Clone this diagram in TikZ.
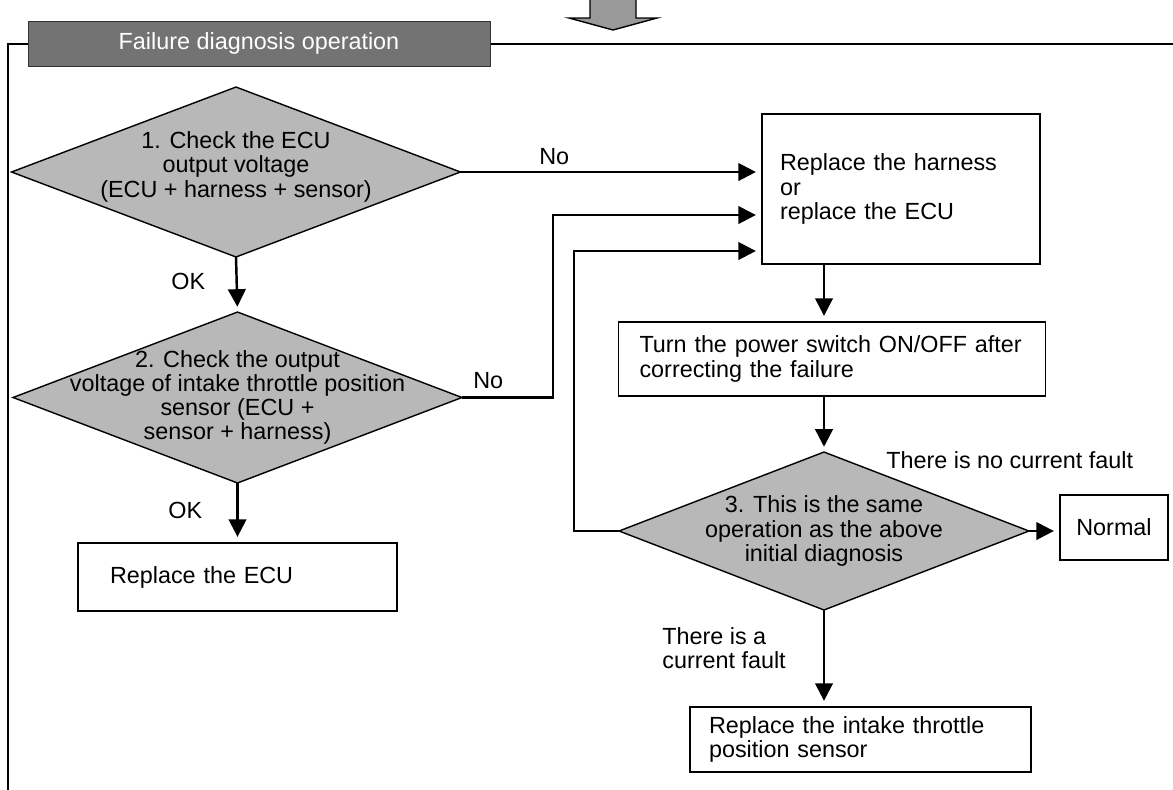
\documentclass[tikz,border=0pt]{standalone}
\usepackage{fontspec}
\setmainfont{Liberation Sans}
\usetikzlibrary{shapes.geometric, arrows.meta, positioning, calc}
\colorlet{diagray}{black!28}
\colorlet{bargray}{black!55}
\colorlet{pipegray}{black!40}

\begin{document}
\begin{tikzpicture}[x=0.02cm, y=-0.02cm, font=\fontsize{13.3}{13.8}\selectfont,
    decision/.style={draw, diamond, fill=diagray, line width=0.8pt, inner sep=0pt, outer sep=0pt},
    action/.style={draw, rectangle, line width=1pt, align=left, inner ysep=0pt},
    flow/.style={line width=1.4pt, -{Triangle[length=10pt, width=10pt]}, shorten >=3pt},
    lbl/.style={inner sep=0pt}]
    \useasboundingbox (0,0) rectangle (1173,789);

    \draw[fill=pipegray, line width=0.8pt] (590,-2) -- (590,18) -- (569,18) -- (613,30) -- (657,18) -- (636,18) -- (636,-2);
    \draw[line width=0.8pt] (8,792) -- (8,44) -- (1176,44);
    \node[draw=black!80, fill=bargray, text=white, minimum width=9.24cm, minimum height=0.9cm, inner sep=0pt] (title) at (259,43.5) {Failure diagnosis operation};

    \node[decision, minimum width=8.98cm, minimum height=3.4cm] (chk1) at (236,172) {};
    \node[align=center] (chk1txt) at ([yshift=3pt]chk1.center) {1. Check the ECU\\output voltage\\(ECU + harness + sensor)};
    \node[decision, minimum width=8.98cm, minimum height=3.42cm] (chk2) at (237.5,397.5) {};
    \node[align=center] (chk2txt) at (chk2.center) {2. Check the output\\voltage of intake throttle position\\sensor (ECU +\\sensor + harness)};
    \node[decision, minimum width=8.2cm, minimum height=3.16cm] (chk3) at (824,531) {};
    \node[align=center] (chk3txt) at (chk3.center) {3. This is the same\\operation as the above\\initial diagnosis};

    \node[action, text width=5.1cm, inner xsep=0.64cm, minimum height=1.36cm] (ecu) at (237.5,577) {Replace the ECU};
    \node[action, text width=4.84cm, inner xsep=0.36cm, minimum height=3cm] (harness) at (901,189) {Replace the harness\\or\\replace the ECU};
    \node[action, text width=7.7cm, inner xsep=0.42cm, minimum height=1.48cm] (power) at (832,359) {Turn the power switch ON/OFF after\\correcting the failure};
    \node[action, align=center, minimum width=2.16cm, minimum height=1.3cm] (normal) at (1114,527.5) {Normal};
    \node[action, text width=6.06cm, inner xsep=0.38cm, minimum height=1.3cm] (sensor) at (860.5,739.5) {Replace the intake throttle\\position sensor};

    \node[lbl, anchor=base west] (no1) at (539,164) {No};
    \node[lbl, anchor=base west] (ok1) at (171,289) {OK};
    \node[lbl, anchor=base west] (no2) at (473,388) {No};
    \node[lbl, anchor=base west] (ok2) at (168,518) {OK};
    \node[lbl, anchor=base west] (nofault) at (886,468) {There is no current fault};
    \node[lbl, anchor=north west, align=left] (fault) at (662,627) {There is a\\current fault};

    \coordinate (jog2) at (553,215);
    \coordinate (jog3) at (574,251);
    \draw[flow] (chk1.east) -- (chk1.east -| harness.west);
    \draw[flow] (chk1.south) -- (chk2.north);
    \draw[flow] (chk2.east) -| (jog2) -- (jog2 -| harness.west);
    \draw[flow] (chk2.south) -- (ecu.north);
    \draw[flow] (chk3.north |- harness.south) -- (chk3.north |- power.north);
    \draw[flow] (chk3.north |- power.south) -- (chk3.north);
    \draw[flow] (chk3.east) -- (chk3.east -| normal.west);
    \draw[flow] (chk3.south) -- (chk3.south |- sensor.north);
    \draw[flow] (chk3.west) -| (jog3) -- (jog3 -| harness.west);
\end{tikzpicture}
\end{document}
